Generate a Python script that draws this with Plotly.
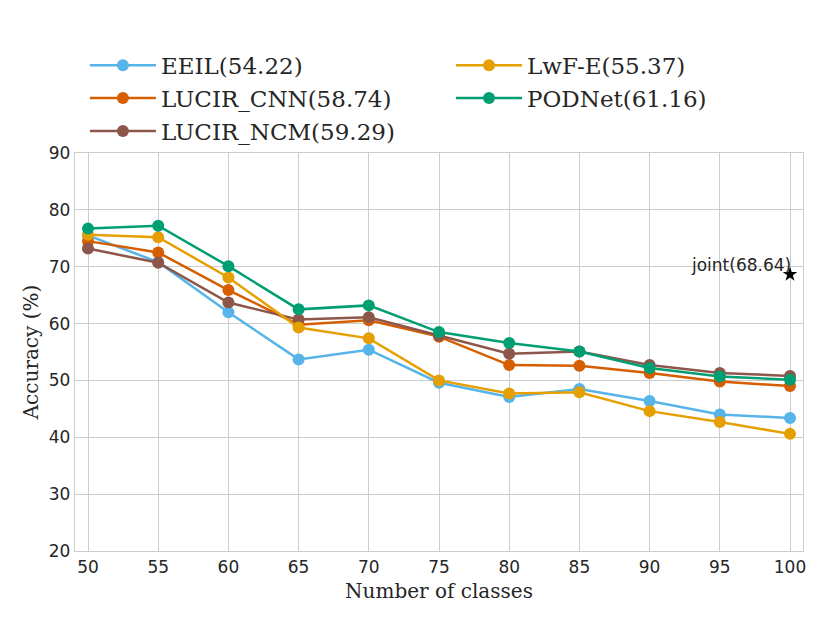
import plotly.graph_objects as go

# number of classes seen so far
classes = [50, 55, 60, 65, 70, 75, 80, 85, 90, 95, 100]

# accuracy (%) per step
eeil = [75.5, 70.8, 62.0, 53.7, 55.4, 49.6, 47.1, 48.5, 46.4, 44.0, 43.4]
lucir_cnn = [74.5, 72.5, 65.9, 59.8, 60.6, 57.7, 52.7, 52.6, 51.3, 49.8, 49.0]
lucir_ncm = [73.2, 70.7, 63.7, 60.7, 61.1, 57.9, 54.7, 55.1, 52.7, 51.3, 50.8]
lwf_e = [75.6, 75.2, 68.1, 59.3, 57.4, 50.0, 47.7, 47.9, 44.6, 42.7, 40.6]
podnet = [76.7, 77.2, 70.1, 62.5, 63.2, 58.5, 56.6, 55.1, 52.2, 50.7, 50.1]

joint_x = 100
joint_acc = 68.64

fig = go.Figure()

# left legend column
col1 = [
    ("EEIL(54.22)", eeil, "#56B4E9"),
    ("LUCIR_CNN(58.74)", lucir_cnn, "#D55E00"),
    ("LUCIR_NCM(59.29)", lucir_ncm, "#8C564B"),
]
# right legend column
col2 = [
    ("LwF-E(55.37)", lwf_e, "#E69F00"),
    ("PODNet(61.16)", podnet, "#009E73"),
]

for name, vals, color in col1:
    fig.add_trace(go.Scatter(x=classes, y=vals, name=name, mode="lines+markers",
                             line=dict(color=color, width=2.5),
                             marker=dict(size=12, color=color),
                             legend="legend"))
for name, vals, color in col2:
    fig.add_trace(go.Scatter(x=classes, y=vals, name=name, mode="lines+markers",
                             line=dict(color=color, width=2.5),
                             marker=dict(size=12, color=color),
                             legend="legend2"))

# joint training upper bound
fig.add_trace(go.Scatter(x=[joint_x], y=[joint_acc], mode="markers",
                         marker=dict(symbol="star", size=11, color="black"),
                         showlegend=False))
fig.add_annotation(x=joint_x, y=joint_acc, text=f"joint({joint_acc})",
                   showarrow=False, xanchor="right", yanchor="bottom",
                   xshift=3, yshift=-3,
                   font=dict(family="DejaVu Sans", size=17, color="#262626"))

legend_style = dict(font=dict(family="DejaVu Serif", size=23, color="#262626"),
                    bgcolor="rgba(0,0,0,0)", itemwidth=66,
                    yref="container", yanchor="top", xanchor="left",
                    tracegroupgap=0)

# page has an 8px body margin, margins are set with that in mind
fig.update_layout(
    width=830, height=623,
    margin=dict(l=67, r=35, t=145, b=80, autoexpand=False),
    plot_bgcolor="white", paper_bgcolor="white",
    legend=dict(x=0.0136, y=0.9426, **legend_style),
    legend2=dict(x=0.5165, y=0.9426, **legend_style),
    xaxis=dict(
        range=[49.074, 100.926], tickvals=classes,
        showgrid=True, gridcolor="#cccccc", gridwidth=1.3,
        showline=True, linecolor="#cccccc", linewidth=1.3, mirror=True,
        zeroline=False, ticks="", automargin=False,
        tickfont=dict(family="DejaVu Sans", size=17, color="#262626"),
        title=dict(text="Number of classes", standoff=8,
                   font=dict(family="DejaVu Serif", size=20, color="#262626")),
    ),
    yaxis=dict(
        range=[20, 90], tickvals=[20, 30, 40, 50, 60, 70, 80, 90],
        showgrid=True, gridcolor="#cccccc", gridwidth=1.3,
        showline=True, linecolor="#cccccc", linewidth=1.3, mirror=True,
        zeroline=False, ticks="", automargin=False,
        tickfont=dict(family="DejaVu Sans", size=17, color="#262626"),
        title=dict(text="Accuracy (%)", standoff=4,
                   font=dict(family="DejaVu Serif", size=20, color="#262626")),
    ),
)

fig.write_html("out.html")
